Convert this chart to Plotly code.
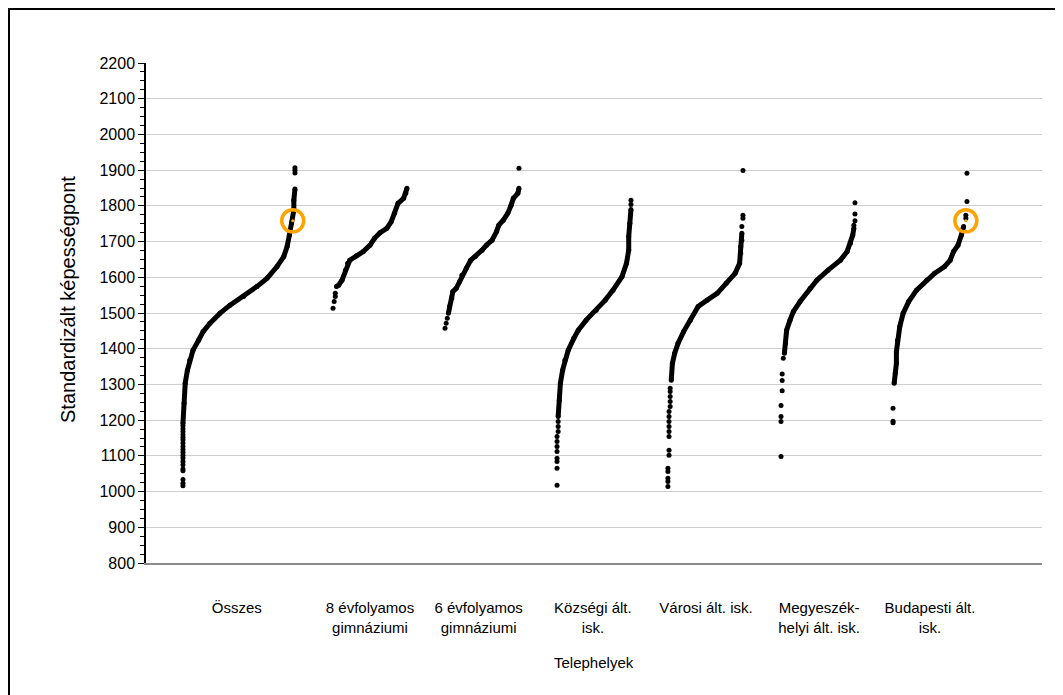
import plotly.graph_objects as go

# category labels on the x axis
categories = ["Összes", "8 évfolyamos<br>gimnáziumi", "6 évfolyamos<br>gimnáziumi",
              "Községi ált.<br>isk.", "Városi ált. isk.", "Megyeszék-<br>helyi ált. isk.",
              "Budapesti ált.<br>isk."]
label_pos = [0.81, 2.0, 2.97, 3.99, 5.0, 6.01, 7.0]

# Összes
ossz_x = [0.33, 0.34, 0.35, 0.37, 0.39, 0.42, 0.47, 0.51, 0.57, 0.66, 0.75, 0.87, 0.99,
          1.08, 1.17, 1.23, 1.26, 1.28, 1.30, 1.32, 1.32, 1.33]
ossz_y = [1191, 1247, 1303, 1340, 1368, 1396, 1424, 1448, 1471, 1499, 1522, 1546, 1574,
          1597, 1630, 1658, 1686, 1718, 1751, 1788, 1816, 1847]
ossz_tail_x = [0.33, 0.33, 0.33, 0.33, 0.33, 0.33, 0.33, 0.33, 0.33, 0.33, 0.33, 0.33,
               0.33, 0.33, 0.33, 0.33, 0.33, 0.33, 0.33, 1.33, 1.33, 1.33]
ossz_tail_y = [1016, 1023, 1034, 1058, 1063, 1075, 1084, 1094, 1102, 1110, 1118, 1126,
               1136, 1145, 1152, 1160, 1168, 1176, 1184, 1892, 1900, 1907]

# 8 évfolyamos gimnáziumi
gim8_x = [1.70, 1.72, 1.75, 1.78, 1.80, 1.82, 1.88, 1.94, 2.00, 2.04, 2.09, 2.15, 2.19,
          2.22, 2.25, 2.30, 2.32, 2.33]
gim8_y = [1574, 1578, 1592, 1620, 1639, 1648, 1660, 1672, 1690, 1709, 1725, 1737, 1756,
          1779, 1807, 1821, 1835, 1849]
gim8_tail_x = [1.67, 1.68, 1.69, 1.69]
gim8_tail_y = [1513, 1532, 1546, 1555]

# 6 évfolyamos gimnáziumi
gim6_x = [2.70, 2.71, 2.73, 2.74, 2.77, 2.80, 2.82, 2.86, 2.90, 2.94, 3.00, 3.04, 3.09,
          3.13, 3.15, 3.19, 3.23, 3.26, 3.28, 3.32, 3.33]
gim6_y = [1499, 1518, 1541, 1560, 1569, 1588, 1606, 1625, 1648, 1658, 1676, 1690, 1704,
          1728, 1746, 1760, 1779, 1802, 1821, 1835, 1849]
gim6_tail_x = [2.67, 2.68, 2.69, 3.33]
gim6_tail_y = [1457, 1471, 1485, 1905]

# Községi ált. isk.
kozs_x = [3.68, 3.69, 3.70, 3.72, 3.74, 3.77, 3.82, 3.86, 3.93, 4.02, 4.10, 4.17, 4.25,
          4.29, 4.31, 4.31, 4.32, 4.33]
kozs_y = [1210, 1256, 1303, 1340, 1368, 1396, 1429, 1452, 1480, 1508, 1536, 1564, 1602,
          1639, 1676, 1714, 1751, 1790]
kozs_tail_x = [3.67, 3.67, 3.67, 3.67, 3.67, 3.67, 3.67, 3.67, 3.68, 3.68, 3.68, 4.33, 4.33]
kozs_tail_y = [1018, 1065, 1084, 1093, 1112, 1126, 1140, 1154, 1168, 1182, 1196, 1804, 1816]

# Városi ált. isk.
var_x = [4.69, 4.70, 4.72, 4.75, 4.80, 4.86, 4.93, 5.01, 5.10, 5.18, 5.26, 5.30, 5.31,
         5.31, 5.32, 5.32]
var_y = [1312, 1359, 1387, 1415, 1448, 1480, 1518, 1536, 1555, 1583, 1611, 1639, 1667,
         1686, 1704, 1723]
var_tail_x = [4.66, 4.66, 4.66, 4.66, 4.66, 4.67, 4.67, 4.67, 4.67, 4.67, 4.67, 4.67,
              4.67, 4.68, 4.68, 4.68, 4.68, 4.68, 5.32, 5.33, 5.33, 5.33]
var_tail_y = [1014, 1028, 1037, 1056, 1065, 1102, 1116, 1154, 1168, 1182, 1196, 1210,
              1224, 1238, 1252, 1266, 1280, 1289, 1742, 1765, 1774, 1899]

# Megyeszékhelyi ált. isk.
megy_x = [5.70, 5.71, 5.72, 5.75, 5.78, 5.84, 5.93, 5.99, 6.09, 6.20, 6.26, 6.29, 6.31, 6.32]
megy_y = [1387, 1415, 1452, 1480, 1504, 1532, 1569, 1592, 1620, 1648, 1672, 1695, 1718, 1737]
megy_tail_x = [5.67, 5.67, 5.67, 5.67, 5.68, 5.68, 5.68, 5.69, 6.32, 6.33, 6.33, 6.33]
megy_tail_y = [1098, 1196, 1210, 1241, 1282, 1311, 1329, 1373, 1746, 1758, 1777, 1809]

# Budapesti ált. isk.
bp_x = [6.68, 6.69, 6.70, 6.70, 6.71, 6.73, 6.76, 6.81, 6.88, 6.97, 7.04, 7.13, 7.18,
        7.21, 7.25, 7.28, 7.30]
bp_y = [1303, 1331, 1359, 1392, 1424, 1462, 1499, 1532, 1564, 1592, 1611, 1630, 1648,
        1672, 1690, 1718, 1742]
bp_tail_x = [6.67, 6.67, 6.67, 7.32, 7.32, 7.33, 7.33]
bp_tail_y = [1193, 1197, 1233, 1765, 1774, 1812, 1891]

# highlighted points (orange rings)
hl_x = [1.31, 7.32]
hl_y = [1758, 1758]

groups = [
    (ossz_x, ossz_y, ossz_tail_x, ossz_tail_y),
    (gim8_x, gim8_y, gim8_tail_x, gim8_tail_y),
    (gim6_x, gim6_y, gim6_tail_x, gim6_tail_y),
    (kozs_x, kozs_y, kozs_tail_x, kozs_tail_y),
    (var_x, var_y, var_tail_x, var_tail_y),
    (megy_x, megy_y, megy_tail_x, megy_tail_y),
    (bp_x, bp_y, bp_tail_x, bp_tail_y),
]

# plot area in pixels (page has an 8px body margin)
L, T, PW, PH = 138, 55, 896, 500

fig = go.Figure()

for cx, cy, tx, ty in groups:
    # dense part of the sorted scores
    fig.add_trace(go.Scatter(x=cx, y=cy, mode="lines+markers",
                             line=dict(color="black", width=5),
                             marker=dict(color="black", size=5),
                             hoverinfo="y", showlegend=False))
    # sparse end points
    fig.add_trace(go.Scatter(x=tx, y=ty, mode="markers",
                             marker=dict(color="black", size=5),
                             hoverinfo="y", showlegend=False))

fig.add_trace(go.Scatter(x=hl_x, y=hl_y, mode="markers",
                         marker=dict(symbol="circle-open", size=22, color="#FFA300",
                                     line=dict(width=3.5, color="#FFA300")),
                         hoverinfo="skip", showlegend=False))
fig.add_trace(go.Scatter(x=hl_x, y=hl_y, mode="markers",
                         marker=dict(color="#FFA300", size=3),
                         hoverinfo="skip", showlegend=False))

fig.update_layout(
    width=1063, height=695,
    margin=dict(l=L, r=1063 - L - PW, t=T, b=695 - T - PH),
    paper_bgcolor="white", plot_bgcolor="white",
    font=dict(family="Liberation Sans, Arial, sans-serif", color="black"),
    xaxis=dict(
        range=[0, 8], showgrid=False, zeroline=False,
        tickvals=label_pos, ticktext=categories,
        ticks="", ticklabelstandoff=30,
        tickfont=dict(size=15),
        showline=True, linecolor="#8c8c8c", linewidth=2,
    ),
    yaxis=dict(
        range=[800, 2200], dtick=100, tick0=800,
        showgrid=True, gridcolor="#cfcfcf", gridwidth=1, zeroline=False,
        showline=True, linecolor="black", linewidth=1.5,
        ticks="outside", ticklen=6, tickcolor="black", tickwidth=1,
        tickfont=dict(size=16),
        minor=dict(dtick=25, ticks="outside", ticklen=4, tickcolor="black",
                   showgrid=False),
    ),
    annotations=[
        dict(text="Telephelyek", xref="paper", yref="paper",
             x=0.5, y=(T + PH - 654) / PH,
             showarrow=False, font=dict(size=15), xanchor="center", yanchor="middle"),
        dict(text="Standardizált képességpont", xref="paper", yref="paper",
             x=(60 - L) / PW, y=(T + PH - 292) / PH, textangle=-90,
             showarrow=False, font=dict(size=20), xanchor="center", yanchor="middle"),
    ],
    shapes=[
        # outer frame, its right and bottom edges fall outside the page
        dict(type="rect", xref="paper", yref="paper",
             x0=(1 - L) / PW, x1=1.2, y0=-0.4, y1=(T + PH - 1) / PH,
             line=dict(color="black", width=2), layer="above"),
    ],
)

fig.write_html("out.html")
